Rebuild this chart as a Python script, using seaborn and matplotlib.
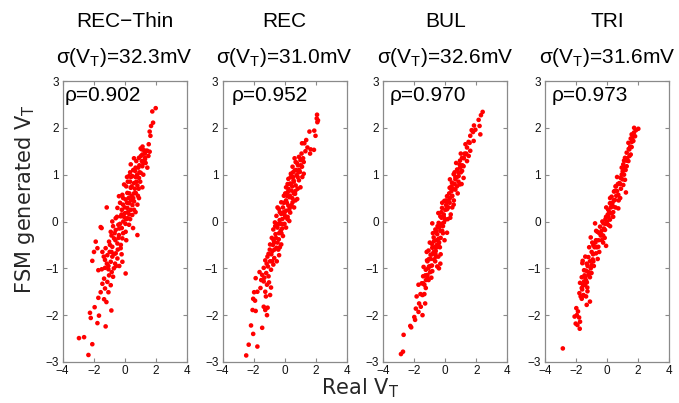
import matplotlib
matplotlib.use("Agg")
import matplotlib.pyplot as plt
import seaborn as sns
import pandas as pd

# ---------------- data ----------------
PANELS = ["REC\u2212Thin", "REC", "BUL", "TRI"]
SIGMA_MV = [32.3, 31.0, 32.6, 31.6]
RHO = [0.902, 0.952, 0.970, 0.973]
X_TICKS = [-4, -2, 0, 2, 4]
Y_TICKS = [-3, -2, -1, 0, 1, 2, 3]

REC_THIN_PTS = [
    (2.00, 2.42), (1.78, 2.35), (1.83, 2.11), (1.70, 2.04), (1.61, 1.92), (1.66, 1.83),
    (1.10, 1.54), (1.46, 1.51), (1.61, 1.49), (0.60, 1.35), (1.31, 1.36), (1.53, 1.40), (1.35, 1.25),
    (1.03, 1.56), (1.25, 1.52), (1.40, 1.51), (1.14, 1.43), (0.92, 1.36), (1.31, 1.33), (1.10, 1.29),
    (0.75, 1.29), (0.39, 1.22), (1.14, 1.18), (0.88, 1.15), (1.46, 1.15), (0.67, 1.08), (1.03, 1.04),
    (0.49, 0.97), (0.92, 0.93), (0.28, 0.97), (-0.04, 0.79), (0.60, 0.82), (0.82, 0.77), (1.14, 0.73),
    (0.39, 0.72), (0.17, 0.61), (0.71, 0.61), (-0.15, 0.57), (0.45, 0.54), (0.92, 0.50), (0.06, 0.47),
    (-0.37, 0.54), (0.60, 0.43), (0.28, 0.39), (-0.11, 0.36), (0.82, 0.36), (0.17, 0.29), (-0.19, 0.25),
    (0.39, 0.25), (-0.47, 0.29), (0.02, 0.18), (0.49, 0.14), (-0.26, 0.11), (-0.58, 0.07), (0.17, 0.07),
    (-0.09, 0.00), (-0.41, -0.07), (0.28, -0.07), (-0.80, 0.00), (-0.19, -0.14), (-0.58, -0.18),
    (0.06, -0.22), (0.54, -0.14), (0.82, -0.29), (-0.90, -0.22), (-0.37, -0.29), (-0.69, -0.36),
    (-0.15, -0.36), (-1.01, -0.43), (-0.47, -0.47), (-0.80, -0.54), (-1.23, -0.57), (-0.26, -0.57),
    (-0.97, -0.65), (-0.58, -0.68), (-1.44, -0.65), (-0.80, -0.75), (-1.12, -0.72), (-0.47, -0.79),
    (-0.90, -0.86), (-0.62, -0.90), (-0.15, -0.86), (-1.27, -0.82),
    (0.55, 1.10), (0.80, 1.00), (0.35, 0.85), (0.65, 0.70), (0.10, 0.75), (1.00, 0.85), (0.25, 0.50),
    (0.50, 0.35), (0.00, 0.30), (0.70, 0.20), (-0.30, 0.40), (0.35, 0.05), (-0.05, 0.10), (-0.35, -0.15),
    (0.10, -0.40), (-0.60, -0.40), (-0.20, -0.70), (-0.75, -0.10), (0.40, 0.95), (0.95, 1.20), (1.20, 1.00),
    (0.15, 0.95), (-0.25, -0.50), (-1.05, -0.95), (-0.70, -1.00), (0.30, 0.15), (0.60, 0.60), (-0.50, 0.10),
    (0.85, 0.55), (0.05, -0.05), (1.05, 1.40), (0.70, 0.95), (0.20, 0.20), (-0.40, -0.35), (-0.85, -0.30),
    (0.45, 0.75), (0.75, 0.85), (1.20, 1.25), (0.30, 0.60), (-0.10, 0.50), (0.10, 0.05), (-0.30, -0.05),
    (0.15, 0.40), (0.55, 0.50), (-0.65, -0.25), (-0.45, -0.60), (-0.95, -0.50), (-1.15, -0.90),
    (-0.35, -0.95), (0.70, 1.15), (1.30, 1.45), (0.90, 0.70), (0.40, 0.45), (-0.10, -0.25), (-0.70, -0.70),
    (1.55, 1.65), (0.20, 0.85), (0.60, 0.25), (-0.20, 0.15), (0.95, 1.05), (-0.55, -0.95), (-0.85, -0.65),
    (0.35, 1.05), (-1.35, -0.75), (1.15, 1.60),
    (-1.70, -1.04), (-1.48, -1.02), (-1.27, -0.99), (-1.05, -1.02), (-0.84, -1.08), (-0.75, -1.18),
    (-1.01, -1.15), (-1.33, -1.22), (-1.12, -1.29), (-1.44, -1.33), (-0.90, -1.36), (-1.27, -1.43),
    (-1.55, -1.51), (-1.05, -1.51), (-1.33, -1.66), (-1.70, -1.63), (-1.18, -1.72), (0.06, -1.11),
    (-1.16, 0.30), (-1.55, -0.12), (-1.49, -0.14), (-1.87, -0.43), (-1.76, -0.57), (-1.98, -0.65),
    (-2.09, -0.84), (-0.86, -1.90), (-1.94, -1.83), (-2.24, -1.95), (-2.19, -2.06), (-1.66, -2.01),
    (-1.76, -2.17), (-1.23, -2.24), (-2.95, -2.49), (-2.62, -2.47), (-2.09, -2.62), (-2.34, -2.85),
]

REC_PTS = [
    (2.10, 2.28), (2.08, 2.20), (2.16, 2.16), (2.12, 2.12), (1.61, 1.92), (1.92, 1.94), (2.00, 1.83),
    (1.13, 1.67), (1.40, 1.74), (1.28, 1.67), (1.48, 1.58), (1.69, 1.54), (1.90, 1.53), (1.65, 1.45),
    (0.93, 1.38), (1.03, 1.31), (0.72, 1.27), (1.24, 1.27), (0.87, 1.20), (0.52, 1.17), (1.13, 1.17),
    (0.66, 1.09), (0.99, 1.06), (0.41, 1.02), (0.78, 0.99), (1.24, 1.02), (0.25, 0.91), (0.58, 0.88),
    (0.93, 0.88), (0.37, 0.81), (0.72, 0.77), (0.10, 0.73), (1.03, 0.73), (0.45, 0.66), (0.21, 0.63),
    (0.68, 0.59), (-0.04, 0.55), (0.31, 0.52), (0.82, 0.48), (0.10, 0.45), (-0.21, 0.41), (0.52, 0.41),
    (0.25, 0.34), (-0.10, 0.30), (0.62, 0.30), (-0.37, 0.27), (0.10, 0.23), (0.37, 0.19), (-0.21, 0.16),
    (-0.52, 0.12), (0.04, 0.09), (-0.31, 0.03), (0.31, 0.01), (-0.62, -0.02), (-0.10, -0.06),
    (-0.45, -0.13), (0.10, -0.13), (-0.72, -0.17), (-0.25, -0.20), (-0.58, -0.27), (-0.10, -0.31),
    (-0.82, -0.35), (-0.37, -0.38), (-0.66, -0.45), (-0.21, -0.49), (-0.93, -0.49), (-0.52, -0.56),
    (-0.78, -0.63), (-0.35, -0.72), (-1.03, -0.69), (-0.66, -0.78), (-0.93, -0.85), (-1.24, -0.83),
    (-0.72, -0.92), (-1.07, -0.96), (-1.34, -0.99), (-0.87, -1.03), (-1.18, -1.10), (-1.44, -1.14),
    (-1.03, -1.17), (-1.61, -1.08), (-1.86, -1.21),
    (0.80, 1.25), (0.55, 0.95), (0.85, 0.70), (0.35, 0.55), (0.60, 0.60), (0.15, 0.40), (0.45, 0.35),
    (-0.05, 0.20), (0.20, 0.10), (-0.40, -0.05), (0.00, -0.05), (-0.25, -0.05), (-0.55, -0.35),
    (-0.30, -0.55), (-0.85, -0.70), (-0.50, -0.85), (1.10, 1.45), (0.65, 1.35), (0.40, 0.80), (0.95, 1.10),
    (0.20, 0.80), (0.70, 0.45), (-0.15, 0.05), (0.30, 0.25), (-0.60, -0.10), (-0.75, -0.50),
    (0.50, 0.75), (1.15, 0.95), (0.05, 0.60), (-0.45, 0.30), (-1.10, -0.75), (-0.20, -0.25),
    (0.75, 1.10), (0.50, 0.50), (0.25, 0.70), (-0.05, 0.40), (0.40, 0.95), (0.90, 1.05), (1.05, 1.20),
    (0.60, 0.85), (0.15, 0.55), (-0.30, 0.20), (-0.15, -0.15), (-0.50, -0.10), (-0.65, -0.60),
    (-0.40, -0.60), (-0.95, -0.60), (-1.15, -0.90), (-0.80, -0.85), (0.35, 0.30), (0.00, 0.15),
    (-0.35, -0.25), (1.20, 1.35), (0.85, 0.95), (0.55, 1.05), (-0.70, -0.40), (-1.30, -1.20),
    (-1.00, -1.30), (1.35, 1.50), (0.70, 0.65), (0.20, 0.05), (-0.45, -0.45),
    (-1.34, -1.28), (-1.13, -1.35), (-1.55, -1.42), (-0.87, -1.41), (-1.24, -1.50), (-1.75, -1.50),
    (-1.96, -1.51), (-0.93, -1.57), (-2.02, -1.65), (-1.90, -1.69), (-1.34, -1.82), (-1.09, -1.84),
    (-1.24, -1.89), (-2.06, -1.89), (-1.86, -1.91), (-1.13, -2.00), (-2.16, -2.22), (-2.02, -2.40),
    (-1.44, -2.27), (-2.31, -2.63), (-1.75, -2.67), (-2.47, -2.86), (-1.50, -1.25), (-1.20, -1.60),
]

BUL_PTS = [
    (2.41, 2.34), (2.30, 2.27), (2.15, 2.17), (2.21, 2.04), (1.94, 1.96), (1.79, 1.91), (2.26, 1.86),
    (1.61, 1.83), (1.83, 1.72), (1.57, 1.68), (1.40, 1.58), (1.61, 1.51), (1.29, 1.43), (1.51, 1.40),
    (1.08, 1.36), (1.40, 1.29), (0.92, 1.22), (1.18, 1.18), (0.76, 1.11), (1.08, 1.08), (0.54, 1.01),
    (0.86, 0.97), (1.18, 0.93), (0.65, 0.90), (0.43, 0.83), (0.92, 0.79), (0.28, 0.72), (0.65, 0.68),
    (0.11, 0.54), (0.43, 0.54), (-0.06, 0.44), (0.28, 0.40), (0.54, 0.36), (-0.21, 0.29), (0.11, 0.26),
    (-0.32, 0.11), (0.00, 0.04), (0.32, 0.08), (-0.43, -0.03), (-0.15, -0.10), (-0.64, -0.17),
    (-0.32, -0.20), (0.11, -0.24), (-0.75, -0.34), (-0.43, -0.37), (-0.86, -0.48), (-0.54, -0.55),
    (-1.08, -0.62), (-0.64, -0.69), (-0.32, -0.90), (-1.18, -0.83), (-0.86, -0.94), (-1.40, -0.97),
    (-0.97, -1.08), (-1.29, -1.15), (-1.08, -1.25), (-1.44, -1.32),
    (-2.86, -2.83), (-2.73, -2.78), (-2.69, -2.42), (-2.26, -2.23), (-2.20, -2.26), (-2.00, -2.04),
    (-1.90, -1.86), (-1.73, -1.93), (-1.58, -1.82), (-1.47, -2.00), (-1.69, -1.75), (-1.47, -1.57),
    (-1.73, -1.35), (-1.52, -1.32), (-1.26, -1.42), (-1.43, -1.17), (-1.15, -1.14), (-1.26, -1.03),
    (-1.05, -0.96), (-0.84, -1.06), (-1.15, -0.85), (-0.95, -0.71), (-0.73, -0.81), (-0.52, -0.96),
    (-0.41, -1.00), (-0.84, -0.56), (-0.62, -0.63), (-0.73, -0.42), (-0.45, -0.49), (-0.84, -0.04),
    (-0.52, -0.27), (-0.30, -0.35), (-0.41, -0.13), (-0.20, -0.20), (-0.45, 0.18), (-0.24, 0.08),
    (-0.09, -0.02), (0.11, 0.31),
    (0.20, 0.45), (0.00, 0.25), (0.40, 0.65), (0.75, 0.95), (0.60, 0.80), (0.95, 1.15), (1.20, 1.35),
    (0.85, 1.05), (0.50, 0.70), (0.25, 0.60), (0.05, 0.35), (-0.10, 0.15), (-0.25, -0.05), (-0.55, -0.40),
    (-0.70, -0.55), (-0.95, -0.80), (-1.10, -1.00), (-1.25, -1.25), (-0.60, -0.75), (-0.35, -0.55),
    (-0.20, 0.40), (0.30, 0.90), (0.70, 1.25), (1.00, 1.45), (1.30, 1.65), (1.70, 1.95), (-0.05, -0.40),
    (-0.45, -0.75), (-0.90, -1.20), (-1.35, -1.55), (0.15, 0.05), (0.45, 0.30), (0.80, 0.60), (1.05, 0.80),
    (-0.60, -0.20), (-0.80, -0.25), (-1.00, -0.45), (-1.20, -0.65), (0.60, 1.05), (0.35, 0.15),
    (-1.60, -1.55), (-1.85, -1.60), (-1.95, -2.10), (-1.30, -1.75), (1.50, 1.70), (1.85, 2.05),
    (-0.35, -0.10), (-0.10, 0.10), (0.10, 0.40), (0.45, 0.55), (0.65, 0.95), (0.85, 0.85), (1.10, 1.20),
    (1.25, 1.45), (0.40, 0.75), (0.20, 0.30), (-0.15, -0.25), (-0.55, -0.50), (-0.75, -0.65),
    (-0.95, -0.95), (-1.15, -1.20), (-1.35, -1.35), (-0.40, -0.45), (-0.65, -0.85), (0.05, 0.45),
    (0.55, 0.45), (0.75, 0.75), (1.00, 1.05), (1.35, 1.45), (-0.25, 0.20), (-0.50, -0.10), (-0.85, -0.70),
    (-1.05, -0.80), (0.30, 0.50), (0.95, 1.30), (-0.30, -0.70),
]

TRI_PTS = [
    (2.02, 1.98), (1.87, 1.95), (1.74, 1.90), (1.59, 1.86), (1.81, 1.82), (1.53, 1.77), (1.70, 1.72),
    (1.38, 1.68), (1.59, 1.59), (1.44, 1.54), (1.27, 1.47), (1.53, 1.43), (1.16, 1.36), (1.38, 1.29),
    (1.05, 1.22), (1.27, 1.18), (1.01, 1.07), (0.88, 0.93), (1.16, 0.89), (0.80, 0.82), (1.05, 0.78),
    (0.58, 0.75), (1.22, 0.62), (0.45, 0.64), (0.73, 0.57), (0.30, 0.53), (0.51, 0.46), (0.19, 0.39),
    (0.41, 0.32), (0.08, 0.25), (0.73, 0.28), (0.30, 0.17), (-0.06, 0.10), (0.19, 0.04), (-0.23, -0.04),
    (0.08, -0.07), (-0.45, -0.11), (-0.13, -0.18), (-0.62, -0.22), (-0.34, -0.29), (-1.05, -0.34),
    (-0.71, -0.40), (-0.34, -0.40), (-0.88, -0.51), (-0.56, -0.54), (-0.06, -0.52), (-0.99, -0.65),
    (-0.71, -0.68), (-1.20, -0.76), (-0.92, -0.81), (-1.57, -0.84), (-1.31, -0.90), (-0.99, -0.93),
    (-1.48, -1.04), (-1.20, -1.08), (-1.63, -1.19), (-1.35, -1.26), (-1.10, -1.19), (-1.74, -1.31),
    (-1.48, -1.36), (-1.27, -1.41), (-1.78, -1.53), (-1.52, -1.58), (-1.63, -1.65),
    (-2.85, -2.71), (-2.09, -2.03), (-1.98, -1.85), (-1.87, -1.92), (-2.02, -2.18), (-1.91, -2.21),
    (-1.76, -2.29), (-1.74, -2.14), (-1.63, -1.42), (-1.52, -1.57), (-1.35, -1.60), (-1.26, -1.49),
    (-1.42, -1.35), (-1.10, -1.71), (-1.31, -1.78), (-1.48, -1.28), (-1.59, -0.89), (-1.20, -1.14),
    (-0.88, -0.85), (-0.77, -0.04),
    (1.60, 1.70), (1.45, 1.40), (1.20, 1.10), (0.95, 1.00), (0.70, 0.80), (0.90, 0.70), (0.60, 0.55),
    (0.35, 0.40), (0.55, 0.30), (0.15, 0.20), (0.40, 0.10), (0.00, 0.00), (-0.20, -0.15), (0.05, 0.15),
    (-0.40, -0.30), (-0.15, -0.35), (-0.55, -0.40), (-0.80, -0.55), (-0.50, -0.65), (-1.10, -0.85),
    (-0.85, -0.95), (-1.35, -1.05), (-1.05, -1.00), (1.75, 2.00), (1.30, 1.35), (1.10, 1.30), (0.65, 0.95),
    (0.85, 0.50), (0.25, 0.30), (-0.30, 0.00), (-0.65, -0.55), (-0.95, -0.45), (-1.15, -0.55),
    (-1.40, -1.20), (-1.55, -1.35), (-1.70, -1.60), (0.50, 0.65), (-0.10, 0.05), (1.00, 0.90), (1.40, 1.55),
    (-1.95, -2.00), (-1.80, -2.05), (0.20, -0.10), (-0.25, -0.45),
    (0.30, 0.35), (0.10, 0.10), (-0.10, -0.05), (0.45, 0.45), (0.65, 0.65), (0.85, 0.80), (1.10, 1.00),
    (1.25, 1.30), (1.50, 1.60), (0.20, 0.50), (-0.35, -0.20), (-0.50, -0.25), (-0.75, -0.45),
    (-0.90, -0.70), (-1.25, -0.95), (-1.45, -1.15), (-1.00, -1.10), (-0.60, -0.80), (0.55, 0.75),
    (0.75, 0.45), (1.05, 1.15), (0.40, 0.20), (-0.05, 0.30), (-0.25, -0.30), (-1.60, -1.45), (-1.30, -1.30),
    (1.65, 1.80), (0.95, 1.15), (-0.70, -0.20), (-1.40, -0.75),
]

ALL_PTS = [REC_THIN_PTS, REC_PTS, BUL_PTS, TRI_PTS]

rows = []
for name, pts in zip(PANELS, ALL_PTS):
    for xv, yv in pts:
        rows.append({"panel": name, "real": xv, "fsm": yv})
df = pd.DataFrame(rows)

# ---------------- figure ----------------
sns.set_theme(style="white")
plt.rcParams['font.family'] = ['Liberation Sans', 'DejaVu Sans']
plt.rcParams['mathtext.fontset'] = 'custom'
plt.rcParams['mathtext.rm'] = 'Liberation Sans'

W, H = 679, 403
fig = plt.figure(figsize=(W / 100, H / 100), dpi=100)
fig.patch.set_facecolor("white")

lefts_px = [62.7, 222.5, 383.3, 545.0]
rho_x = [-3.85, -3.42, -3.60, -3.60]
ax_w, ax_h, ax_b = 124, 281, 41
grey = "#8a8a8a"

for i, name in enumerate(PANELS):
    ax = fig.add_axes([lefts_px[i] / W, ax_b / H, ax_w / W, ax_h / H])
    sns.scatterplot(data=df[df["panel"] == name], x="real", y="fsm", ax=ax,
                    color="#ff0000", s=11, linewidth=0, edgecolor="none", legend=False)
    ax.set_xlim(-4, 4)
    ax.set_ylim(-3, 3)
    ax.set_xticks(X_TICKS)
    ax.set_yticks(Y_TICKS)
    ax.set_xlabel("")
    ax.set_ylabel("")
    for sp in ax.spines.values():
        sp.set_color(grey)
        sp.set_linewidth(0.9)
        sp.set_visible(True)
    ax.tick_params(axis="both", direction="in", length=3, width=0.8, color=grey,
                   top=True, right=True, bottom=True, left=True,
                   labelsize=8.5, labelcolor="#111111")
    ax.tick_params(axis="x", pad=2)
    ax.tick_params(axis="y", pad=3)
    ax.set_facecolor("white")
    ax.text(rho_x[i], 2.57, "\u03c1=%.3f" % RHO[i], fontsize=15, ha="left", va="baseline",
            color="black")
    ax.text(0.5, 1.191, name, transform=ax.transAxes, ha="center", va="baseline",
            fontsize=15, color="black")
    ax.text(0.5, 1.063, "\u03c3(V$_\\mathregular{T}$)=%.1fmV" % SIGMA_MV[i], transform=ax.transAxes,
            ha="center", va="baseline", fontsize=15, color="black")

fig.text(25 / W, 1 - 199 / H, "FSM generated V$_\\mathregular{T}$", rotation=90,
         ha="center", va="center", fontsize=15, family="DejaVu Sans")
fig.text(360 / W, 1 - 388 / H, "Real V$_\\mathregular{T}$", ha="center", va="center",
         fontsize=15, family="DejaVu Sans")

fig.savefig("out.png", dpi=100, facecolor="white")
